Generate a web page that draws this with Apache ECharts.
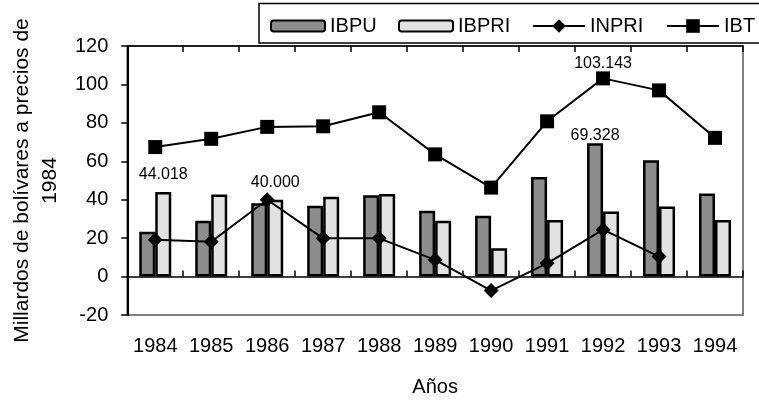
<!DOCTYPE html>
<html>
<head>
<meta charset="utf-8">
<script src="https://cdn.jsdelivr.net/npm/echarts@6/dist/echarts.min.js"></script>
<style>html,body{margin:0;padding:0;background:#fff;}#c{width:759px;height:402px;}</style>
</head>
<body>
<div id="c"></div>
<script>
const years = ['1984','1985','1986','1987','1988','1989','1990','1991','1992','1993','1994'];
const IBPU  = [23.3, 29.0, 38.2, 36.8, 42.3, 34.2, 31.6, 51.8, 69.328, 60.5, 43.2];
const IBPRI = [44.018, 42.7, 40.000, 41.5, 43.0, 29.0, 14.7, 29.4, 33.9, 36.5, 29.4];
const INPRI = [19.2, 18.1, 40.0, 19.9, 19.9, 8.7, -7.3, 6.9, 24.4, 10.4, null];
const IBT   = [67.4, 71.7, 77.9, 78.2, 85.5, 63.6, 46.3, 80.8, 103.143, 96.9, 72.2];
const yTicks = [-20, 0, 20, 40, 60, 80, 100, 120];
const labelIBPU = [8];
const labelIBPRI = [0, 2];
const labelIBT = [8];

const FONT = 'Liberation Sans, Arial, sans-serif';
function withLabels(arr, idxs, dist) {
  return arr.map((v, i) => idxs.indexOf(i) >= 0
    ? {value: v, label: {show: true, position: 'top', distance: dist, fontSize: 16, color: '#000', fontFamily: FONT,
        formatter: p => Number(p.value).toFixed(3)}}
    : v);
}

const chart = echarts.init(document.getElementById('c'), null, {renderer: 'canvas'});
const legendBase = {top: 16, padding: 0, itemGap: 0, textStyle: {fontSize: 20, color: '#000', fontFamily: FONT}};
chart.setOption({
  animation: false,
  backgroundColor: '#fff',
  textStyle: {fontFamily: FONT},
  grid: {left: 117, right: 16, top: 46, bottom: 86, show: true, borderColor: '#808080', borderWidth: 2},
  legend: [
    Object.assign({}, legendBase, {left: 270, data: ['IBPU'], itemWidth: 54, itemHeight: 11,
      itemStyle: {borderColor: '#000', borderWidth: 2}}),
    Object.assign({}, legendBase, {left: 398, data: ['IBPRI'], itemWidth: 54, itemHeight: 11,
      itemStyle: {borderColor: '#000', borderWidth: 2}}),
    Object.assign({}, legendBase, {left: 532, data: ['INPRI'], itemWidth: 52, itemHeight: 17}),
    Object.assign({}, legendBase, {left: 666, data: ['IBT'], itemWidth: 52, itemHeight: 17})
  ],
  graphic: [{type: 'rect', shape: {x: 259, y: 3.5, width: 530, height: 39.5},
    style: {fill: 'none', stroke: '#000', lineWidth: 1.5}, z: 100}],
  xAxis: [
    {type: 'category', data: years, position: 'bottom',
     axisLine: {onZero: false, show: false}, axisTick: {show: false},
     axisLabel: {fontSize: 20, color: '#000', margin: 21, interval: 0, fontFamily: FONT},
     name: 'Años', nameLocation: 'middle', nameGap: 62,
     nameTextStyle: {fontSize: 20, color: '#000', fontFamily: FONT}},
    {type: 'category', data: years, position: 'top',
     axisLine: {onZero: true, lineStyle: {color: '#000', width: 1.5}},
     axisTick: {show: true, inside: false, length: 6, lineStyle: {color: '#000', width: 1.5}},
     axisLabel: {show: false}},
    {type: 'category', data: years, position: 'top',
     axisLine: {onZero: true, lineStyle: {color: '#000', width: 1.5}},
     axisTick: {show: true, inside: true, length: 6, lineStyle: {color: '#000', width: 1.5}},
     axisLabel: {show: false}}
  ],
  yAxis: {type: 'value', min: yTicks[0], max: yTicks[yTicks.length - 1], interval: 20,
    splitLine: {show: false},
    axisLine: {show: true, lineStyle: {color: '#000', width: 2}},
    axisTick: {show: true, length: 6, lineStyle: {color: '#000', width: 1.5}},
    axisLabel: {fontSize: 20, color: '#000', margin: 19, fontFamily: FONT},
    name: 'Millardos de bolívares a precios de\n1984', nameLocation: 'middle', nameRotate: 90, nameGap: 54,
    nameTextStyle: {fontSize: 21, lineHeight: 28, color: '#000', fontFamily: FONT, align: 'center'}},
  series: [
    {name: 'IBPU', type: 'bar', xAxisIndex: 0, barWidth: 16, barGap: '0%',
     itemStyle: {color: '#8c8c8c', borderColor: '#000', borderWidth: 2.5},
     data: withLabels(IBPU, labelIBPU, 0)},
    {name: 'IBPRI', type: 'bar', xAxisIndex: 0, barWidth: 16, barGap: '0%',
     itemStyle: {color: '#e2e2e2', borderColor: '#000', borderWidth: 2.5},
     data: withLabels(IBPRI, labelIBPRI, 9)},
    {name: 'INPRI', type: 'line', xAxisIndex: 0, symbol: 'diamond', symbolSize: 15, z: 5,
     lineStyle: {color: '#000', width: 2}, itemStyle: {color: '#000'},
     data: INPRI},
    {name: 'IBT', type: 'line', xAxisIndex: 0, symbol: 'rect', symbolSize: 14, z: 5,
     lineStyle: {color: '#000', width: 2}, itemStyle: {color: '#000'},
     data: withLabels(IBT, labelIBT, 0)}
  ]
});
</script>
</body>
</html>
